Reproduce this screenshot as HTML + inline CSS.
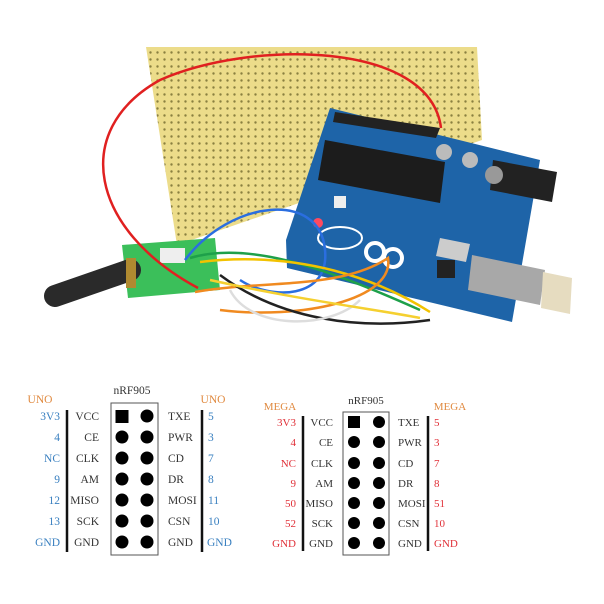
<!DOCTYPE html>
<html><head><style>
html,body{margin:0;padding:0;background:#fff;}
svg{display:block;}
text{font-family:"Liberation Serif",serif;}
</style></head><body>
<svg width="604" height="604" viewBox="0 0 604 604" xmlns="http://www.w3.org/2000/svg">
<defs>
<pattern id="holes" width="7" height="7" patternUnits="userSpaceOnUse">
<rect width="7" height="7" fill="#ecdc8a"/><circle cx="3.5" cy="3.5" r="1.2" fill="#8a8040"/>
</pattern>
</defs>
<rect width="604" height="604" fill="#fff"/>
<polygon points="146,47 477,47 482,140 177,245" fill="url(#holes)"/>
<polygon points="330,108 540,160 512,322 287,268 286,240" fill="#1e64a8"/>
<polygon points="335,112 440,128 436,138 333,122" fill="#222"/>
<polygon points="325,140 445,162 440,203 318,180" fill="#1c1c1c"/>
<polygon points="493,160 557,172 552,202 490,190" fill="#222"/>
<circle cx="444" cy="152" r="8" fill="#bbb"/><circle cx="470" cy="160" r="8" fill="#bbb"/><circle cx="494" cy="175" r="9" fill="#999"/>
<polygon points="472,255 545,270 540,305 468,290" fill="#a8a8a8"/>
<polygon points="543,272 572,278 570,314 541,308" fill="#e6dcc0"/>
<rect x="334" y="196" width="12" height="12" fill="#eee"/>
<circle cx="318" cy="223" r="5" fill="#ff4a60"/>
<ellipse cx="340" cy="238" rx="22" ry="11" fill="none" stroke="#fff" stroke-width="2"/>
<circle cx="375" cy="252" r="9" fill="none" stroke="#fff" stroke-width="4"/><circle cx="393" cy="258" r="9" fill="none" stroke="#fff" stroke-width="4"/>
<polygon points="440,238 470,244 466,262 436,256" fill="#ccc"/>
<rect x="437" y="260" width="18" height="18" fill="#222"/>
<polygon points="122,245 215,238 220,290 128,298" fill="#3bbf5a"/>
<rect x="160" y="248" width="25" height="15" fill="#eee"/>
<line x1="55" y1="296" x2="130" y2="270" stroke="#2a2a2a" stroke-width="22" stroke-linecap="round"/>
<rect x="126" y="258" width="10" height="30" fill="#b08a30"/>
<g fill="none" stroke-width="2.5">
<path d="M441,128 C430,40 250,40 160,80 C70,130 90,230 198,288" stroke="#e02020"/>
<path d="M185,260 C230,200 320,190 325,250 C330,300 270,300 240,280" stroke="#2a6ee0"/>
<path d="M190,258 C250,240 330,270 420,310" stroke="#1ea04a"/>
<path d="M200,262 C300,250 380,280 430,312" stroke="#f2c200"/>
<path d="M195,292 C260,280 340,290 388,258 C395,300 300,320 220,310" stroke="#f08a20"/>
<path d="M220,275 C280,320 360,330 430,320" stroke="#222"/>
<path d="M230,290 C250,330 330,330 360,300" stroke="#ddd"/>
<path d="M210,280 C300,300 380,310 420,318" stroke="#f5d030"/>
</g>
<g font-size="11.5">
<text x="40" y="403" fill="#e08a40" text-anchor="middle">UNO</text>
<text x="213" y="403" fill="#e08a40" text-anchor="middle">UNO</text>
<text x="132" y="394" fill="#333" text-anchor="middle">nRF905</text>
<rect x="111" y="403" width="47" height="152" fill="none" stroke="#555" stroke-width="1"/>
<line x1="67" y1="410" x2="67" y2="552" stroke="#111" stroke-width="2.5"/>
<line x1="202" y1="410" x2="202" y2="552" stroke="#111" stroke-width="2.5"/>
<rect x="115.5" y="410" width="13" height="13" fill="#000"/>
<g fill="#000">
<circle cx="147" cy="416" r="6.5"/>
<circle cx="122" cy="437" r="6.5"/><circle cx="147" cy="437" r="6.5"/>
<circle cx="122" cy="458" r="6.5"/><circle cx="147" cy="458" r="6.5"/>
<circle cx="122" cy="479" r="6.5"/><circle cx="147" cy="479" r="6.5"/>
<circle cx="122" cy="500" r="6.5"/><circle cx="147" cy="500" r="6.5"/>
<circle cx="122" cy="521" r="6.5"/><circle cx="147" cy="521" r="6.5"/>
<circle cx="122" cy="542" r="6.5"/><circle cx="147" cy="542" r="6.5"/>
</g>
<g fill="#3a80c0" text-anchor="end">
<text x="60" y="420">3V3</text><text x="60" y="441">4</text><text x="60" y="462">NC</text><text x="60" y="483">9</text><text x="60" y="504">12</text><text x="60" y="525">13</text><text x="60" y="546">GND</text>
</g>
<g fill="#333" text-anchor="end">
<text x="99" y="420">VCC</text><text x="99" y="441">CE</text><text x="99" y="462">CLK</text><text x="99" y="483">AM</text><text x="99" y="504">MISO</text><text x="99" y="525">SCK</text><text x="99" y="546">GND</text>
</g>
<g fill="#333">
<text x="168" y="420">TXE</text><text x="168" y="441">PWR</text><text x="168" y="462">CD</text><text x="168" y="483">DR</text><text x="168" y="504">MOSI</text><text x="168" y="525">CSN</text><text x="168" y="546">GND</text>
</g>
<g fill="#3a80c0">
<text x="208" y="420">5</text><text x="208" y="441">3</text><text x="208" y="462">7</text><text x="208" y="483">8</text><text x="208" y="504">11</text><text x="208" y="525">10</text><text x="207" y="546">GND</text>
</g>
</g>
<g font-size="11">
<text x="280" y="410" fill="#e08a40" text-anchor="middle">MEGA</text>
<text x="450" y="410" fill="#e08a40" text-anchor="middle">MEGA</text>
<text x="366" y="404" fill="#333" text-anchor="middle">nRF905</text>
<rect x="343" y="412" width="46" height="143" fill="none" stroke="#555" stroke-width="1"/>
<line x1="303" y1="416" x2="303" y2="551" stroke="#111" stroke-width="2.5"/>
<line x1="428" y1="416" x2="428" y2="551" stroke="#111" stroke-width="2.5"/>
<rect x="348" y="416" width="12" height="12" fill="#000"/>
<g fill="#000">
<circle cx="379" cy="422" r="6"/>
<circle cx="354" cy="442" r="6"/><circle cx="379" cy="442" r="6"/>
<circle cx="354" cy="463" r="6"/><circle cx="379" cy="463" r="6"/>
<circle cx="354" cy="483" r="6"/><circle cx="379" cy="483" r="6"/>
<circle cx="354" cy="503" r="6"/><circle cx="379" cy="503" r="6"/>
<circle cx="354" cy="523" r="6"/><circle cx="379" cy="523" r="6"/>
<circle cx="354" cy="543" r="6"/><circle cx="379" cy="543" r="6"/>
</g>
<g fill="#e03038" text-anchor="end">
<text x="296" y="426">3V3</text><text x="296" y="446">4</text><text x="296" y="467">NC</text><text x="296" y="487">9</text><text x="296" y="507">50</text><text x="296" y="527">52</text><text x="296" y="547">GND</text>
</g>
<g fill="#333" text-anchor="end">
<text x="333" y="426">VCC</text><text x="333" y="446">CE</text><text x="333" y="467">CLK</text><text x="333" y="487">AM</text><text x="333" y="507">MISO</text><text x="333" y="527">SCK</text><text x="333" y="547">GND</text>
</g>
<g fill="#333">
<text x="398" y="426">TXE</text><text x="398" y="446">PWR</text><text x="398" y="467">CD</text><text x="398" y="487">DR</text><text x="398" y="507">MOSI</text><text x="398" y="527">CSN</text><text x="398" y="547">GND</text>
</g>
<g fill="#e03038">
<text x="434" y="426">5</text><text x="434" y="446">3</text><text x="434" y="467">7</text><text x="434" y="487">8</text><text x="434" y="507">51</text><text x="434" y="527">10</text><text x="434" y="547">GND</text>
</g>
</g>
</svg>
</body></html>
